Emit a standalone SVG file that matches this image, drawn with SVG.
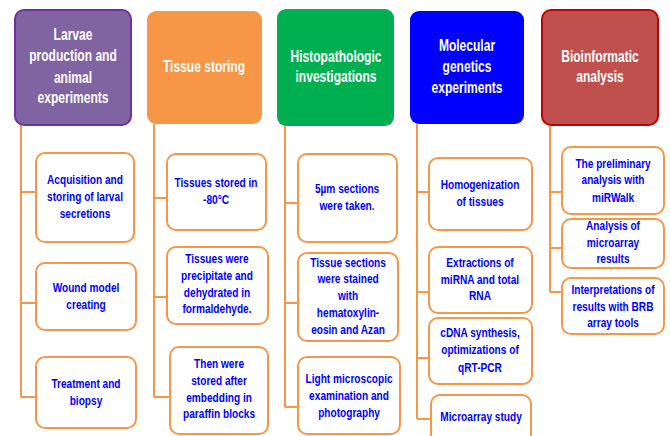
<svg xmlns="http://www.w3.org/2000/svg" width="670" height="436" viewBox="0 0 670 436">
<style>
.hd{font-family:"Liberation Sans",Arial,sans-serif;font-weight:bold;font-size:16.5px;fill:#ffffff;text-anchor:middle;transform-box:fill-box;transform-origin:center;transform:scaleX(0.73)}
.ch{font-family:"Liberation Sans",Arial,sans-serif;font-weight:bold;font-size:13.5px;fill:#0000ff;text-anchor:middle;transform-box:fill-box;transform-origin:center;transform:scaleX(0.75)}
.box{fill:#ffffff;stroke:#f79646;stroke-width:2}
.ln{fill:none;stroke:#f79646;stroke-width:2}
</style>
<rect width="670" height="436" fill="#ffffff"/>
<g id="connectors">
<path class="ln" d="M21,125V397M21,192H36M21,303H36M21,397H36"/>
<path class="ln" d="M154,124V397M154,198H167M154,297H167M154,397H170"/>
<path class="ln" d="M285,126V407M285,203H298M285,303H298M285,407H298"/>
<path class="ln" d="M417,124V419M417,192H429M417,292H429M417,358H429M417,419H431"/>
<path class="ln" d="M550,126V292M550,192H562M550,248H562M550,292H562"/>
</g>
<g id="h1"><rect x="15" y="10" width="116" height="115" rx="9" fill="#8064a2" stroke="#7030a0" stroke-width="2"/>
<text class="hd"><tspan x="73" y="40">Larvae</tspan><tspan x="73" y="61">production and</tspan><tspan x="73" y="83">animal</tspan><tspan x="73" y="103">experiments</tspan></text></g>
<g id="h2"><rect x="147" y="11" width="115" height="113" rx="9" fill="#f79646"/>
<text class="hd"><tspan x="204" y="72">Tissue storing</tspan></text></g>
<g id="h3"><rect x="277" y="9" width="117" height="117" rx="9" fill="#00b050"/>
<text class="hd"><tspan x="336" y="62">Histopathologic</tspan><tspan x="336" y="82">investigations</tspan></text></g>
<g id="h4"><rect x="410" y="11" width="114" height="113" rx="9" fill="#0000ff"/>
<text class="hd"><tspan x="467" y="51">Molecular</tspan><tspan x="467" y="72">genetics</tspan><tspan x="467" y="93">experiments</tspan></text></g>
<g id="h5"><rect x="542" y="10" width="116" height="115" rx="9" fill="#c0504d" stroke="#c00000" stroke-width="2"/>
<text class="hd"><tspan x="600" y="62">Bioinformatic</tspan><tspan x="600" y="82">analysis</tspan></text></g>

<g id="c1a"><rect class="box" x="36" y="153" width="98" height="89" rx="9"/>
<text class="ch"><tspan x="85" y="184">Acquisition and</tspan><tspan x="85" y="201">storing of larval</tspan><tspan x="85" y="218">secretions</tspan></text></g>
<g id="c1b"><rect class="box" x="36" y="263" width="100" height="67" rx="9"/>
<text class="ch"><tspan x="86" y="292">Wound model</tspan><tspan x="86" y="309">creating</tspan></text></g>
<g id="c1c"><rect class="box" x="36" y="357" width="100" height="71" rx="9"/>
<text class="ch"><tspan x="86" y="388">Treatment and</tspan><tspan x="86" y="405">biopsy</tspan></text></g>

<g id="c2a"><rect class="box" x="167" y="154" width="99" height="76" rx="9"/>
<text class="ch"><tspan x="216" y="187">Tissues stored in</tspan><tspan x="216" y="204">-80°C</tspan></text></g>
<g id="c2b"><rect class="box" x="167" y="247" width="101" height="77" rx="9"/>
<text class="ch"><tspan x="217" y="263">Tissues were</tspan><tspan x="217" y="280">precipitate and</tspan><tspan x="217" y="297">dehydrated in</tspan><tspan x="217" y="313">formaldehyde.</tspan></text></g>
<g id="c2c"><rect class="box" x="170" y="347" width="98" height="87" rx="9"/>
<text class="ch"><tspan x="219" y="368">Then were</tspan><tspan x="219" y="385">stored after</tspan><tspan x="219" y="402">embedding in</tspan><tspan x="219" y="418">paraffin blocks</tspan></text></g>

<g id="c3a"><rect class="box" x="298" y="154" width="99" height="88" rx="9"/>
<text class="ch"><tspan x="347" y="193">5µm sections</tspan><tspan x="347" y="210">were taken<tspan fill="#ff0000">.</tspan></tspan></text></g>
<g id="c3b"><rect class="box" x="298" y="253" width="100" height="88" rx="9"/>
<text class="ch"><tspan x="348" y="267">Tissue sections</tspan><tspan x="348" y="283">were stained</tspan><tspan x="348" y="300">with</tspan><tspan x="348" y="317">hematoxylin-</tspan><tspan x="348" y="334">eosin and Azan</tspan></text></g>
<g id="c3c"><rect class="box" x="298" y="357" width="102" height="77" rx="9"/>
<text class="ch"><tspan x="349" y="383">Light microscopic</tspan><tspan x="349" y="400">examination and</tspan><tspan x="349" y="417">photography</tspan></text></g>

<g id="c4a"><rect class="box" x="429" y="158" width="103" height="72" rx="9"/>
<text class="ch"><tspan x="480" y="189">Homogenization</tspan><tspan x="480" y="206">of tissues</tspan></text></g>
<g id="c4b"><rect class="box" x="429" y="247" width="103" height="66" rx="9"/>
<text class="ch"><tspan x="480" y="267">Extractions of</tspan><tspan x="480" y="284">miRNA and total</tspan><tspan x="480" y="300">RNA</tspan></text></g>
<g id="c4c"><rect class="box" x="429" y="318" width="103" height="66" rx="9"/>
<text class="ch"><tspan x="480" y="337">cDNA synthesis,</tspan><tspan x="480" y="354">optimizations of</tspan><tspan x="480" y="372">qRT-PCR</tspan></text></g>
<g id="c4d"><rect class="box" x="431" y="395" width="100" height="60" rx="9"/>
<text class="ch"><tspan x="481" y="421">Microarray study</tspan></text></g>

<g id="c5a"><rect class="box" x="562" y="147" width="102" height="67" rx="9"/>
<text class="ch"><tspan x="613" y="168">The preliminary</tspan><tspan x="613" y="184">analysis with</tspan><tspan x="613" y="202">miRWalk</tspan></text></g>
<g id="c5b"><rect class="box" x="562" y="219" width="102" height="49" rx="9"/>
<text class="ch"><tspan x="613" y="230">Analysis of</tspan><tspan x="613" y="247">microarray</tspan><tspan x="613" y="263">results</tspan></text></g>
<g id="c5c"><rect class="box" x="562" y="278" width="102" height="56" rx="9"/>
<text class="ch"><tspan x="613" y="294">Interpretations of</tspan><tspan x="613" y="311">results with BRB</tspan><tspan x="613" y="327">array tools</tspan></text></g>
</svg>
